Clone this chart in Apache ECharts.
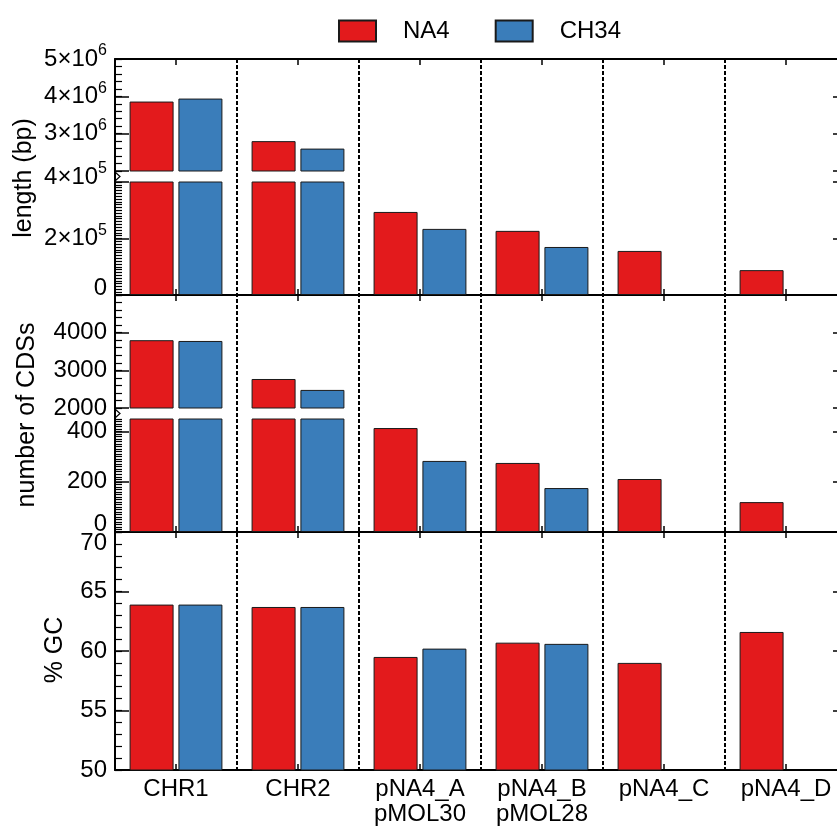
<!DOCTYPE html>
<html>
<head>
<meta charset="utf-8">
<script src="https://cdn.jsdelivr.net/npm/echarts@6/dist/echarts.min.js"></script>
<style>
  html, body { margin: 0; padding: 0; background: #fff; }
  #chart { width: 837px; height: 832px; }
</style>
</head>
<body>
<div id="chart"></div>
<script>
// Replicons compared between the two strains
const categories = ['CHR1', 'CHR2', 'pNA4_A\npMOL30', 'pNA4_B\npMOL28', 'pNA4_C', 'pNA4_D'];
const seriesNames = ['NA4', 'CH34'];

// Replicon length (bp)
const lengthNA4 = [3860000, 2800000, 294000, 227000, 156000, 88000];
const lengthCH34 = [3940000, 2600000, 234000, 170000, null, null];

// Number of coding sequences
const cdsNA4 = [3800, 2770, 414, 275, 211, 119];
const cdsCH34 = [3780, 2480, 283, 175, null, null];

// GC content (%)
const gcNA4 = [63.9, 63.7, 59.5, 60.7, 59.0, 61.6];
const gcCH34 = [63.9, 63.7, 60.2, 60.6, null, null];

// Tick values of each axis segment
const lengthUpperTicks = [2000000, 3000000, 4000000, 5000000];
const lengthUpperLabels = [3000000, 4000000, 5000000];
const lengthLowerTicks = [0, 200000, 400000];
const cdsUpperTicks = [2000, 3000, 4000, 5000];
const cdsUpperLabels = [2000, 3000, 4000];
const cdsLowerTicks = [0, 200, 400];
const gcTicks = [50, 55, 60, 65, 70];

const RED = '#e31a1c';
const BLUE = '#3a7dba';
const FONT = '"Liberation Sans", Arial, sans-serif';
const FS = 24;
const LEFT = 115;
const PLOT_WIDTH = 732;

// Each panel is split in segments; the first two panels have a broken y axis
const segments = [
  { top: 59,  bottom: 171, min: 2000000, max: 5000000, ticks: lengthUpperTicks, labels: lengthUpperLabels, minor: 200000, sci: true,  na4: lengthNA4, ch34: lengthCH34, xPos: ['top'], shift: {} },
  { top: 182, bottom: 295, min: 0,       max: 400000,  ticks: lengthLowerTicks, labels: lengthLowerTicks, minor: 10000,  sci: true,  na4: lengthNA4, ch34: lengthCH34, xPos: ['bottom'], shift: { 0: 7, 400000: 5 } },
  { top: 295, bottom: 408, min: 2000,    max: 5000,    ticks: cdsUpperTicks,    labels: cdsUpperLabels,   minor: 200,    sci: false, na4: cdsNA4,    ch34: cdsCH34,    xPos: ['top'], shift: {} },
  { top: 419, bottom: 532, min: 0,       max: 450,     ticks: cdsLowerTicks,    labels: cdsLowerTicks,    minor: 10,     sci: false, na4: cdsNA4,    ch34: cdsCH34,    xPos: ['bottom'], shift: { 0: 8 } },
  { top: 532, bottom: 770, min: 50,      max: 70,      ticks: gcTicks,          labels: gcTicks,          minor: 1,      sci: false, na4: gcNA4,     ch34: gcCH34,     xPos: ['bottom', 'top'], shift: { 70: -11 } }
];

const axisNames = [
  { text: 'length (bp)', x: 24, y: 178 },
  { text: 'number of CDSs', x: 27, y: 415 },
  { text: '% GC', x: 55, y: 650 }
];

// Padding that raises (up > 0) or lowers a rich-text token
function lift(up) {
  return up >= 0 ? [0, 0, 2 * up, 0] : [-2 * up, 0, 0, 0];
}

function richFor(seg) {
  const rich = {};
  const shifts = [0].concat(Object.values(seg.shift));
  shifts.forEach(function (s) {
    rich['m' + (s + 20)] = { fontSize: FS, fontFamily: FONT, color: '#000', padding: lift(s) };
    rich['e' + (s + 20)] = { fontSize: 16, fontFamily: FONT, color: '#000', padding: lift(s + 8) };
  });
  return rich;
}

function formatterFor(seg) {
  return function (v) {
    const s = seg.shift[v] || 0;
    const k = s + 20;
    if (seg.sci && v !== 0) {
      const exp = Math.floor(Math.log10(v) + 1e-9);
      const mant = Math.round(v / Math.pow(10, exp));
      return '{m' + k + '|' + mant + '×10}{e' + k + '|' + exp + '}';
    }
    return '{m' + k + '|' + v + '}';
  };
}

const grids = [];
const xAxes = [];
const yAxes = [];
const series = [];
const black = { color: '#000', width: 2 };

function makeGrid(top, height) {
  // the frame runs past the right edge of the canvas
  return { left: LEFT, width: PLOT_WIDTH, top: top, height: height, outerBoundsMode: 'none', containLabel: false };
}

segments.forEach(function (seg, g) {
  grids.push(makeGrid(seg.top, seg.bottom - seg.top));

  const xIndex = xAxes.length;
  seg.xPos.forEach(function (pos) {
    const withLabels = (g === segments.length - 1 && pos === 'bottom');
    xAxes.push({
      gridIndex: g, type: 'category', data: categories, position: pos, boundaryGap: true,
      axisLine: { show: true, lineStyle: black },
      axisTick: { show: true, inside: true, alignWithLabel: true, length: 6, lineStyle: { color: '#000', width: 1.5 } },
      axisLabel: { show: withLabels, color: '#000', fontSize: FS, lineHeight: 25, fontFamily: FONT, margin: 7, interval: 0 },
      splitLine: { show: false }
    });
  });

  const yIndex = yAxes.length;
  ['left', 'right'].forEach(function (pos) {
    // major ticks, frame line and labels
    yAxes.push({
      gridIndex: g, type: 'value', position: pos, min: seg.min, max: seg.max,
      axisLine: { show: true, lineStyle: black },
      axisTick: { show: true, inside: true, length: 14, customValues: seg.ticks, lineStyle: { color: '#000', width: 1.5 } },
      axisLabel: pos === 'left'
        ? { show: true, customValues: seg.labels, formatter: formatterFor(seg), rich: richFor(seg), margin: 8, color: '#000', fontSize: FS, fontFamily: FONT }
        : { show: false },
      splitLine: { show: false }
    });
    // minor ticks
    yAxes.push({
      gridIndex: g, type: 'value', position: pos, min: seg.min, max: seg.max, interval: seg.minor,
      axisLine: { show: false },
      axisTick: { show: true, inside: true, length: 7, lineStyle: { color: '#000', width: 1.2 } },
      axisLabel: { show: false },
      splitLine: { show: false }
    });
  });

  // values below the segment floor are not drawn in that segment
  const inSegment = function (v) { return (v === null || v <= seg.min) ? '-' : v; };
  [[seriesNames[0], seg.na4, RED], [seriesNames[1], seg.ch34, BLUE]].forEach(function (s) {
    series.push({
      type: 'bar', name: s[0], xAxisIndex: xIndex, yAxisIndex: yIndex,
      data: s[1].map(inSegment), barWidth: 44, barGap: '11%', clip: true, silent: true,
      itemStyle: { color: s[2], borderColor: '#1a1a1a', borderWidth: 1 }
    });
  });
});

// full-height grid carrying the dashed separators between replicons
const bgGrid = grids.length;
grids.push(makeGrid(segments[0].top, segments[segments.length - 1].bottom - segments[0].top));
xAxes.push({
  gridIndex: bgGrid, type: 'category', data: categories, boundaryGap: true,
  axisLine: { show: false }, axisTick: { show: false }, axisLabel: { show: false },
  splitLine: { show: true, lineStyle: { color: '#000', width: 2, type: [4, 2] } }
});
yAxes.push({ gridIndex: bgGrid, type: 'value', show: false, min: 0, max: 1 });

// break marks on the left axis
const graphics = [];
[[segments[0], segments[1]], [segments[2], segments[3]]].forEach(function (pair) {
  const y0 = pair[0].bottom, y1 = pair[1].top, ym = (y0 + y1) / 2;
  graphics.push({ type: 'line', shape: { x1: LEFT, y1: y0, x2: LEFT, y2: y1 }, style: { stroke: '#000', lineWidth: 2 } });
  graphics.push({ type: 'polyline', shape: { points: [[LEFT, ym - 4.5], [LEFT + 5, ym], [LEFT, ym + 4.5]] }, style: { stroke: '#000', lineWidth: 1.2, fill: null } });
});
axisNames.forEach(function (n) {
  graphics.push({
    type: 'text', x: n.x, y: n.y, rotation: Math.PI / 2,
    style: { text: n.text, fontSize: 25, fontFamily: FONT, fill: '#000', align: 'center', verticalAlign: 'middle' }
  });
});

const chart = echarts.init(document.getElementById('chart'), null, { renderer: 'canvas' });
chart.setOption({
  animation: false,
  backgroundColor: '#fff',
  legend: {
    data: seriesNames, left: 338, top: 19, padding: 0, icon: 'rect',
    itemWidth: 37, itemHeight: 21, itemGap: 45, selectedMode: false,
    textStyle: { fontSize: FS, color: '#000', fontFamily: FONT, padding: [0, 0, 0, 22] }
  },
  grid: grids,
  xAxis: xAxes,
  yAxis: yAxes,
  series: series,
  graphic: graphics
});
</script>
</body>
</html>
